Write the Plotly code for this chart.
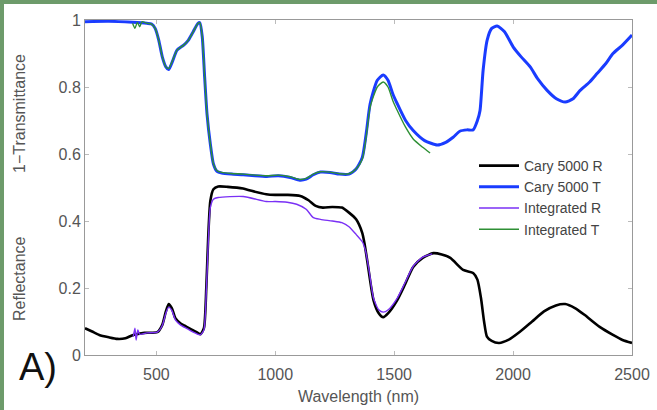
import plotly.graph_objects as go

# ---- data ----
cary_t_wl = [200, 300, 400, 460, 480, 495, 510, 525, 540, 552, 567, 587, 615, 635, 655, 675, 683, 693, 703, 713, 727,
             740, 755, 775, 815, 865, 915, 965, 1013, 1063, 1103, 1130, 1160, 1190, 1230, 1270, 1310, 1340, 1366,
             1384, 1399, 1429, 1454, 1474, 1494, 1513, 1548, 1580, 1628, 1681, 1717, 1748, 1776, 1806, 1832, 1850,
             1861, 1874, 1891, 1910, 1933, 1964, 2000, 2034, 2072, 2103, 2143, 2182, 2219, 2252, 2282, 2322, 2353,
             2390, 2420, 2460, 2500]
cary_t = [0.995, 0.996, 0.993, 0.99, 0.988, 0.975, 0.94, 0.89, 0.86, 0.852, 0.875, 0.91, 0.925, 0.94, 0.965, 0.99,
          0.992, 0.95, 0.83, 0.72, 0.63, 0.57, 0.548, 0.543, 0.54, 0.538, 0.535, 0.533, 0.535, 0.53, 0.522, 0.525,
          0.538, 0.546, 0.545, 0.54, 0.54, 0.555, 0.59, 0.67, 0.75, 0.82, 0.836, 0.82, 0.78, 0.75, 0.70, 0.67, 0.64,
          0.627, 0.635, 0.65, 0.668, 0.672, 0.672, 0.70, 0.73, 0.85, 0.94, 0.975, 0.982, 0.965, 0.92, 0.89, 0.86,
          0.825, 0.79, 0.765, 0.755, 0.765, 0.79, 0.815, 0.84, 0.87, 0.90, 0.925, 0.955]

int_t_wl = [400, 410, 420, 430, 440, 460, 480, 495, 510, 525, 540, 552, 567, 587, 615, 635, 655, 675, 683, 693, 703,
            713, 727, 740, 755, 775, 815, 865, 915, 965, 1013, 1063, 1103, 1130, 1160, 1190, 1230, 1270, 1310, 1340,
            1366, 1384, 1399, 1429, 1454, 1474, 1494, 1513, 1548, 1580, 1620, 1651]
int_t = [0.99, 0.975, 0.993, 0.98, 0.995, 0.99, 0.988, 0.975, 0.94, 0.89, 0.86, 0.855, 0.877, 0.91, 0.925, 0.94,
         0.965, 0.99, 0.992, 0.95, 0.83, 0.72, 0.63, 0.57, 0.55, 0.545, 0.542, 0.54, 0.537, 0.535, 0.537, 0.532,
         0.524, 0.527, 0.54, 0.547, 0.546, 0.541, 0.541, 0.555, 0.585, 0.66, 0.74, 0.80, 0.815, 0.80, 0.76, 0.73,
         0.68, 0.645, 0.62, 0.603]

cary_r_wl = [200, 230, 260, 300, 336, 370, 403, 450, 504, 525, 540, 552, 565, 580, 601, 625, 643, 665, 685, 700,
             710, 718, 727, 740, 760, 800, 865, 900, 962, 1000, 1050, 1105, 1140, 1170, 1200, 1240, 1280, 1310,
             1340, 1366, 1376, 1387, 1413, 1435, 1454, 1475, 1513, 1545, 1580, 1620, 1665, 1700, 1736, 1790, 1832,
             1850, 1865, 1878, 1890, 1910, 1941, 1980, 2030, 2080, 2130, 2180, 2219, 2260, 2300, 2364, 2420, 2460,
             2500]
cary_r = [0.08, 0.07, 0.06, 0.053, 0.048, 0.05, 0.06, 0.066, 0.068, 0.09, 0.13, 0.152, 0.14, 0.11, 0.095, 0.085,
          0.078, 0.07, 0.062, 0.08, 0.2, 0.35, 0.46, 0.495, 0.503, 0.502, 0.497, 0.49, 0.48, 0.478, 0.478, 0.475,
          0.462, 0.445, 0.44, 0.442, 0.44, 0.425, 0.405, 0.364, 0.33, 0.28, 0.164, 0.125, 0.113, 0.125, 0.164, 0.21,
          0.263, 0.29, 0.304, 0.30, 0.29, 0.254, 0.245, 0.225, 0.17, 0.10, 0.055, 0.042, 0.036, 0.045, 0.07, 0.10,
          0.13, 0.148, 0.152, 0.14, 0.12, 0.084, 0.06, 0.045, 0.036]

int_r_wl = [403, 410, 415, 422, 430, 460, 504, 525, 540, 552, 565, 580, 601, 625, 643, 665, 685, 700, 710, 718,
            727, 740, 760, 865, 962, 1000, 1050, 1090, 1130, 1160, 1190, 1240, 1280, 1310, 1340, 1366, 1380, 1395,
            1413, 1435, 1454, 1475, 1513, 1545, 1580, 1620, 1660]
int_r = [0.055, 0.08, 0.045, 0.075, 0.062, 0.066, 0.068, 0.088, 0.125, 0.143, 0.133, 0.105, 0.09, 0.08, 0.073,
         0.065, 0.06, 0.075, 0.19, 0.33, 0.44, 0.465, 0.47, 0.473, 0.458, 0.458, 0.456, 0.45, 0.435, 0.41, 0.405,
         0.40, 0.395, 0.383, 0.36, 0.338, 0.31, 0.25, 0.17, 0.135, 0.128, 0.135, 0.17, 0.215, 0.265, 0.292, 0.302]

x_ticks = [500, 1000, 1500, 2000, 2500]
y_ticks = [0, 0.2, 0.4, 0.6, 0.8, 1]
y_tick_labels = ["0", "0.2", "0.4", "0.6", "0.8", "1"]

FONT = "Liberation Sans, Arial, sans-serif"
GREY = "#555555"

fig = go.Figure()
fig.add_trace(go.Scatter(x=cary_r_wl, y=cary_r, mode="lines", name="Cary 5000 R",
                         line=dict(color="#000000", width=2.6, shape="spline", smoothing=0.6)))
fig.add_trace(go.Scatter(x=cary_t_wl, y=cary_t, mode="lines", name="Cary 5000 T",
                         line=dict(color="#1a3cff", width=3, shape="spline", smoothing=0.6)))
fig.add_trace(go.Scatter(x=int_r_wl, y=int_r, mode="lines", name="Integrated R",
                         line=dict(color="#7a30f5", width=1.4, shape="spline", smoothing=0.6)))
fig.add_trace(go.Scatter(x=int_t_wl, y=int_t, mode="lines", name="Integrated T",
                         line=dict(color="#2e8f35", width=1.4, shape="spline", smoothing=0.6)))

# page geometry helpers (plot area 85..632 px wide, 20..355 px tall)
W, H = 657, 410
L, R, T, B = 85, 25, 20, 55
pw, ph = W - L - R, H - T - B


def px(xp):
    return (xp - L) / pw


def py(yp):
    return (H - B - yp) / ph


fig.update_layout(
    width=W, height=H,
    margin=dict(l=L, r=R, t=T, b=B, autoexpand=False),
    paper_bgcolor="white", plot_bgcolor="white",
    font=dict(family=FONT, size=16, color=GREY),
    showlegend=True,
    legend=dict(x=px(608), y=py(150), xanchor="right", yanchor="top",
                bgcolor="rgba(0,0,0,0)", font=dict(size=14, color="#444444"),
                tracegroupgap=0, itemwidth=40),
    xaxis=dict(range=[200, 2500], tickvals=x_ticks, ticks="inside", ticklen=4,
               tickcolor="#bbbbbb", showline=True, linecolor="#999999", linewidth=1,
               mirror="ticks", showgrid=False, zeroline=False, ticklabelstandoff=5,
               automargin=False,
               tickfont=dict(size=16, color=GREY),
               title=dict(text="Wavelength (nm)", font=dict(size=16, color=GREY), standoff=8)),
    yaxis=dict(range=[0, 1], tickvals=y_ticks, ticktext=y_tick_labels, ticks="inside", ticklen=4,
               tickcolor="#bbbbbb", showline=True, linecolor="#999999", linewidth=1,
               mirror="ticks", showgrid=False, zeroline=False, automargin=False,
               tickfont=dict(size=16, color=GREY)),
    annotations=[
        dict(text="1−Transmittance", x=px(19), y=py(114), xref="paper", yref="paper",
             xanchor="center", yanchor="middle",
             textangle=-90, showarrow=False, font=dict(size=16, color=GREY)),
        dict(text="Reflectance", x=px(19), y=py(279), xref="paper", yref="paper",
             xanchor="center", yanchor="middle",
             textangle=-90, showarrow=False, font=dict(size=16, color=GREY)),
        dict(text="A)", x=px(38), y=py(367), xref="paper", yref="paper",
             xanchor="center", yanchor="middle",
             showarrow=False, font=dict(size=38, color="#111111")),
    ],
    shapes=[
        dict(type="rect", xref="paper", yref="paper", x0=px(0), x1=px(4), y0=py(H), y1=py(0),
             fillcolor="#6d9b6b", line=dict(width=0), layer="above"),
        dict(type="rect", xref="paper", yref="paper", x0=px(0), x1=px(W), y0=py(4), y1=py(0),
             fillcolor="#6d9b6b", line=dict(width=0), layer="above"),
    ],
)

fig.write_html("out.html")
